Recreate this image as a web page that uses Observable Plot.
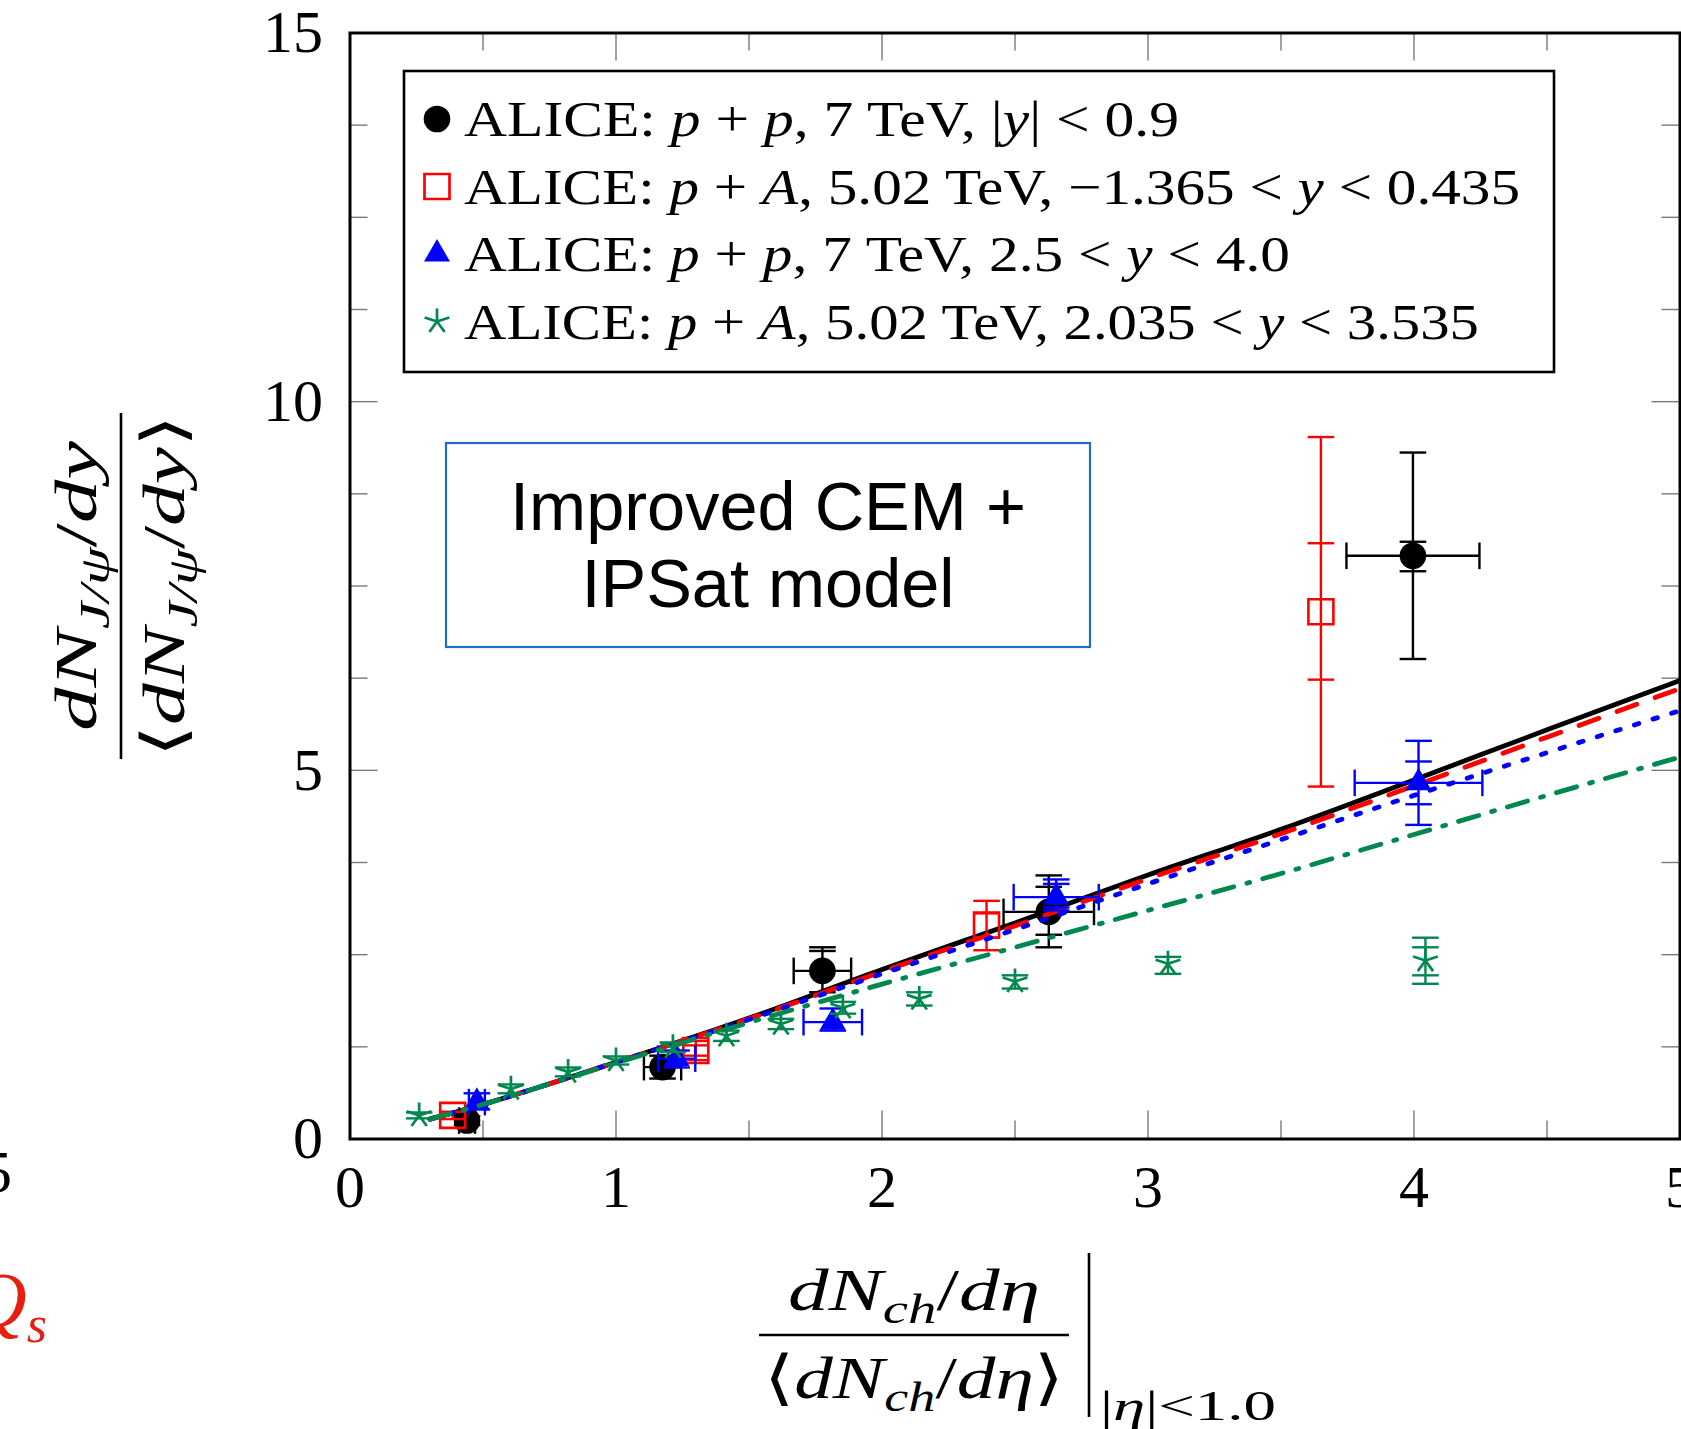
<!DOCTYPE html>
<html>
<head>
<meta charset="utf-8">
<script src="https://cdn.jsdelivr.net/npm/d3@7"></script>
<script src="https://cdn.jsdelivr.net/npm/@observablehq/plot@0.6"></script>
<style>
html,body{margin:0;padding:0;background:#fff;overflow:hidden;}
#chart svg{display:block;}
</style>
</head>
<body>
<div id="chart"></div>
<script>
// ---------------- DATA ----------------
// ALICE p+p 7 TeV |y|<0.9 (black circles)
const ppMidX      = [0.44, 1.175, 1.776, 2.627, 3.996];
const ppMidY      = [0.25, 0.975, 2.28, 3.08, 7.91];
const ppMidXErr   = [0.03, 0.07, 0.108, 0.17, 0.25];
const ppMidYHi    = [0.31, 1.13, 2.60, 3.575, 9.31];
const ppMidYLo    = [0.19, 0.82, 1.99, 2.60, 6.51];
const ppMidYHiSt  = [null, null, 2.55, 3.42, 8.10];
const ppMidYLoSt  = [null, null, null, 2.77, 7.70];

// ALICE p+A 5.02 TeV -1.365<y<0.435 (red open squares)
const pAbX        = [0.386, 1.30, 2.393, 3.65];
const pAbY        = [0.32, 1.20, 2.90, 7.15];
const pAbYHi      = [0.37, 1.33, 3.23, 9.52];
const pAbYLo      = [0.27, 1.07, 2.56, 4.78];
const pAbYHiSt    = [null, 1.27, 3.06, 8.08];
const pAbYLoSt    = [null, 1.13, 2.73, 6.23];

// ALICE p+p 7 TeV 2.5<y<4.0 (blue triangles)
const ppFwdX      = [0.477, 1.228, 1.815, 2.655, 4.017];
const ppFwdY      = [0.50, 1.09, 1.585, 3.28, 4.83];
const ppFwdXErr   = [0.03, 0.07, 0.11, 0.16, 0.24];
const ppFwdYHi    = [0.62, 1.20, 1.77, 3.52, 5.40];
const ppFwdYLo    = [0.40, 0.97, 1.47, 3.10, 4.26];
const ppFwdYHiSt  = [null, null, null, 3.46, 5.12];
const ppFwdYLoSt  = [null, null, null, 3.14, 4.54];

// ALICE p+A 5.02 TeV 2.035<y<3.535 (green stars)
const pAfX        = [0.26, 0.605, 0.82, 1.0, 1.214, 1.415, 1.62, 1.853, 2.14, 2.50, 3.075, 4.043];
const pAfY        = [0.32, 0.68, 0.91, 1.065, 1.245, 1.40, 1.56, 1.78, 1.90, 2.137, 2.377, 2.42];
const pAfYHi      = [0.36, 0.74, 0.97, 1.12, 1.31, 1.47, 1.63, 1.86, 1.99, 2.22, 2.47, 2.73];
const pAfYLo      = [0.28, 0.62, 0.85, 1.01, 1.18, 1.33, 1.49, 1.70, 1.81, 2.04, 2.24, 2.105];
const pAfYHiSt    = [null, null, null, null, null, null, null, null, null, null, null, 2.60];
const pAfYLoSt    = [null, null, null, null, null, null, null, null, null, null, null, 2.22];

// Improved CEM + IPSat model curves
const modelX      = [0.3, 0.5, 1.0, 1.5, 2.0, 2.5, 3.0, 3.5, 4.0, 4.5, 5.0];
const modelPpMid  = [0.27, 0.47, 1.04, 1.64, 2.30, 2.93, 3.58, 4.20, 4.87, 5.55, 6.22];
const modelPAb    = [0.27, 0.47, 1.04, 1.63, 2.27, 2.89, 3.53, 4.14, 4.79, 5.45, 6.11];
const modelPpFwd  = [0.27, 0.47, 1.04, 1.62, 2.24, 2.84, 3.46, 4.06, 4.66, 5.24, 5.81];
const modelPAf    = [0.27, 0.47, 1.03, 1.58, 2.10, 2.60, 3.10, 3.60, 4.13, 4.66, 5.18];

// Axes ticks
const xTicks      = [0, 1, 2, 3, 4, 5];
const xMinorTicks = [0.5, 1.5, 2.5, 3.5, 4.5];
const yTicks      = [0, 5, 10, 15];
const yMinorTicks = [1.25, 2.5, 3.75, 6.25, 7.5, 8.75, 11.25, 12.5, 13.75];

// Legend labels: [text, style] ; style "" roman, "i" italic
const legendPpMid = [["ALICE: ",""],["p","i"],[" + ",""],["p","i"],[", 7 TeV, |",""],["y","i"],["| < 0.9",""]];
const legendPAb   = [["ALICE: ",""],["p","i"],[" + ",""],["A","i"],[", 5.02 TeV, \u22121.365 < ",""],["y","i"],[" < 0.435",""]];
const legendPpFwd = [["ALICE: ",""],["p","i"],[" + ",""],["p","i"],[", 7 TeV, 2.5 < ",""],["y","i"],[" < 4.0",""]];
const legendPAf   = [["ALICE: ",""],["p","i"],[" + ",""],["A","i"],[", 5.02 TeV, 2.035 < ",""],["y","i"],[" < 3.535",""]];
const boxText     = ["Improved CEM +", "IPSat model"];

// ---------------- STYLE ----------------
const SERIF = "'Liberation Serif', 'Times New Roman', Times, 'DejaVu Serif', serif";
const SANS = "'Liberation Sans', Arial, sans-serif";
const GREEN = "#00884f";
const W = 1681, H = 1429;
const mL = 349.5, mR = 1.5, mT = 32.5, mB = H - 1138.5;
const plotW = W - mL - mR, plotH = H - mT - mB;

// custom symbols (size = PI r^2)
const rad = s => Math.sqrt(s / Math.PI);
const hcap = {draw(c, s){const r = rad(s); c.moveTo(-r,0); c.lineTo(r,0);}};
const vcap = {draw(c, s){const r = rad(s); c.moveTo(0,-r); c.lineTo(0,r);}};
const sq   = {draw(c, s){const r = rad(s); c.moveTo(-r,-r); c.lineTo(r,-r); c.lineTo(r,r); c.lineTo(-r,r); c.closePath();}};
const tri  = {draw(c, s){const r = rad(s); const u = r*Math.sqrt(3)/2; c.moveTo(0,-r); c.lineTo(u,r/2); c.lineTo(-u,r/2); c.closePath();}};
const star5= {draw(c, s){const r = rad(s); for(let i=0;i<5;i++){const a=-Math.PI/2+i*2*Math.PI/5; c.moveTo(0,0); c.lineTo(r*Math.cos(a), r*Math.sin(a));}}};

function series(X, Y, XE, Hi, Lo, HiS, LoS){
  return X.map((x,i)=>({x, y:Y[i], xe: XE ? XE[i] : null, hi:Hi[i], lo:Lo[i], hs:HiS[i], ls:LoS[i]}));
}
const dPpMid = series(ppMidX, ppMidY, ppMidXErr, ppMidYHi, ppMidYLo, ppMidYHiSt, ppMidYLoSt);
const dPAb   = series(pAbX, pAbY, null, pAbYHi, pAbYLo, pAbYHiSt, pAbYLoSt);
const dPpFwd = series(ppFwdX, ppFwdY, ppFwdXErr, ppFwdYHi, ppFwdYLo, ppFwdYHiSt, ppFwdYLoSt);
const dPAf   = series(pAfX, pAfY, null, pAfYHi, pAfYLo, pAfYHiSt, pAfYLoSt);
const model = (Y) => modelX.map((x,i)=>({x, y:Y[i]}));

const CAP = 13.3, EW = 2.4;
function errMarks(data, color){
  const o = {stroke: color, strokeWidth: EW, fill: "none", r: CAP};
  const m = [
    Plot.ruleX(data, {x:"x", y1:"lo", y2:"hi", stroke:color, strokeWidth:EW}),
    Plot.dot(data, {...o, x:"x", y:"hi", symbol:hcap}),
    Plot.dot(data, {...o, x:"x", y:"lo", symbol:hcap}),
    Plot.dot(data.filter(d=>d.hs!=null), {...o, x:"x", y:"hs", symbol:hcap}),
    Plot.dot(data.filter(d=>d.ls!=null), {...o, x:"x", y:"ls", symbol:hcap})
  ];
  const dx = data.filter(d=>d.xe!=null);
  if (dx.length){
    m.push(
      Plot.ruleY(dx, {y:"y", x1:d=>d.x-d.xe, x2:d=>d.x+d.xe, stroke:color, strokeWidth:EW}),
      Plot.dot(dx, {...o, x:d=>d.x-d.xe, y:"y", symbol:vcap}),
      Plot.dot(dx, {...o, x:d=>d.x+d.xe, y:"y", symbol:vcap})
    );
  }
  return m;
}

const LW = 4.8;
const TICKC = "#7a7a7a", TICKW = 1.4, MAJ = 28, MIN = 18;

const plot = Plot.plot({
  width: W, height: H,
  marginLeft: mL, marginRight: mR, marginTop: mT, marginBottom: mB,
  x: {domain: [0, 5]},
  y: {domain: [0, 15]},
  style: {fontFamily: SERIF, background: "#fff", overflow: "hidden", color: "black"},
  marks: [
    // ticks inside, all four sides
    Plot.tickX(xTicks, {x: d=>d, insetTop: plotH - MAJ, stroke: TICKC, strokeWidth: TICKW}),
    Plot.tickX(xMinorTicks, {x: d=>d, insetTop: plotH - MIN, stroke: TICKC, strokeWidth: TICKW}),
    Plot.tickX(xTicks, {x: d=>d, insetBottom: plotH - MAJ, stroke: TICKC, strokeWidth: TICKW}),
    Plot.tickX(xMinorTicks, {x: d=>d, insetBottom: plotH - MIN, stroke: TICKC, strokeWidth: TICKW}),
    Plot.tickY(yTicks, {y: d=>d, insetRight: plotW - MAJ, stroke: TICKC, strokeWidth: TICKW}),
    Plot.tickY(yMinorTicks, {y: d=>d, insetRight: plotW - MIN, stroke: TICKC, strokeWidth: TICKW}),
    Plot.tickY(yTicks, {y: d=>d, insetLeft: plotW - MAJ, stroke: TICKC, strokeWidth: TICKW}),
    Plot.tickY(yMinorTicks, {y: d=>d, insetLeft: plotW - MIN, stroke: TICKC, strokeWidth: TICKW}),
    Plot.axisX(xTicks, {tickSize: 0, tickPadding: 25, fontSize: 60, tickFormat: d=>String(d), label: null}),
    Plot.axisY(yTicks, {tickSize: 0, tickPadding: 27, fontSize: 60, tickFormat: d=>String(d), label: null}),

    // black series + model
    ...errMarks(dPpMid, "black"),
    Plot.dot(dPpMid, {x:"x", y:"y", r:13.3, fill:"black", stroke:"none"}),
    Plot.line(model(modelPpMid), {x:"x", y:"y", stroke:"black", strokeWidth:LW, curve:"monotone-x"}),

    // red series + model
    ...errMarks(dPAb, "#ff0000"),
    Plot.dot(dPAb, {x:"x", y:"y", r:12.5, symbol:sq, fill:"none", stroke:"#ff0000", strokeWidth:2.6}),
    Plot.line(model(modelPAb), {x:"x", y:"y", stroke:"#ff0000", strokeWidth:LW, strokeDasharray:"21,19.5", curve:"monotone-x"}),

    // blue series + model
    ...errMarks(dPpFwd, "#0000ff"),
    Plot.dot(dPpFwd, {x:"x", y:"y", r:15, symbol:tri, fill:"#0000ff", stroke:"none"}),
    Plot.line(model(modelPpFwd), {x:"x", y:"y", stroke:"#0000ff", strokeWidth:LW, strokeDasharray:"4.7,14.8", curve:"monotone-x"}),

    // green series + model
    ...errMarks(dPAf, GREEN),
    Plot.dot(dPAf, {x:"x", y:"y", r:13, symbol:star5, fill:"none", stroke:GREEN, strokeWidth:2.7}),
    Plot.line(model(modelPAf), {x:"x", y:"y", stroke:GREEN, strokeWidth:LW, strokeDasharray:"21,13.5,3,13.5", curve:"monotone-x"}),

    Plot.frame({stroke: "black", strokeWidth: 3})
  ]
});
document.getElementById("chart").appendChild(plot);

// ---------------- ANNOTATIONS ----------------
const svg = d3.select(plot);

function mathText(parent, {x, y, parts, size, anchor = "start", length = null, fill = "black", family = SERIF}){
  const t = parent.append("text").attr("x", x).attr("y", y)
    .attr("font-size", size).attr("text-anchor", anchor)
    .attr("font-family", family).attr("fill", fill);
  let off = 0;
  for (const [txt, st] of parts){
    const s = t.append("tspan").text(txt);
    if (st.includes("i")) s.attr("font-style", "italic");
    const sub = st.includes("s");
    if (sub) s.attr("font-size", size * 0.7);
    const target = sub ? size * 0.22 : 0;
    if (target !== off){ s.attr("dy", target - off); off = target; }
  }
  if (length) t.attr("textLength", length).attr("lengthAdjust", "spacingAndGlyphs");
  return t;
}

// legend
const lg = svg.append("g");
lg.append("rect").attr("x", 404).attr("y", 71).attr("width", 1150).attr("height", 301)
  .attr("fill", "white").attr("stroke", "black").attr("stroke-width", 2.6);
const legendRows = [
  {parts: legendPpMid, sym: d3.symbolCircle, r: 13.3, fill: "black", stroke: "none", len: 715},
  {parts: legendPAb, sym: sq, r: 12.5, fill: "none", stroke: "#ff0000", len: 1056},
  {parts: legendPpFwd, sym: tri, r: 15, fill: "#0000ff", stroke: "none", len: 826},
  {parts: legendPAf, sym: star5, r: 13, fill: "none", stroke: GREEN, len: 1015}
];
const rowY = [119, 186.5, 254, 321.5];
legendRows.forEach((row, i) => {
  lg.append("path").attr("transform", `translate(437,${rowY[i]})`)
    .attr("d", d3.symbol(row.sym, Math.PI * row.r * row.r)())
    .attr("fill", row.fill).attr("stroke", row.stroke).attr("stroke-width", 2.7);
  mathText(lg, {x: 464, y: rowY[i] + 17, parts: row.parts, size: 50, length: row.len});
});

// model text box
const tb = svg.append("g");
tb.append("rect").attr("x", 446).attr("y", 443).attr("width", 644).attr("height", 204)
  .attr("fill", "white").attr("stroke", "#1f6ec4").attr("stroke-width", 2.2);
tb.append("text").attr("x", 768).attr("y", 530).attr("text-anchor", "middle")
  .attr("font-family", SANS).attr("font-size", 68.5).text(boxText[0]);
tb.append("text").attr("x", 768).attr("y", 607).attr("text-anchor", "middle")
  .attr("font-family", SANS).attr("font-size", 68.5).text(boxText[1]);

// y-axis label (rotated fraction)
const yl = svg.append("g").attr("transform", "translate(121,586) rotate(-90)");
yl.append("line").attr("x1", -173).attr("x2", 173).attr("y1", 0).attr("y2", 0)
  .attr("stroke", "black").attr("stroke-width", 2.6);
mathText(yl, {x: 0, y: -25, anchor: "middle", size: 60, length: 290,
  parts: [["dN","i"],["J/\u03C8","si"],["/","" ],["dy","i"]]});
mathText(yl, {x: 0, y: 63, anchor: "middle", size: 60, length: 343,
  parts: [["\u27E8",""],["dN","i"],["J/\u03C8","si"],["/",""],["dy","i"],["\u27E9",""]]});

// x-axis label
const xl = svg.append("g");
xl.append("line").attr("x1", 759).attr("x2", 1069).attr("y1", 1335).attr("y2", 1335)
  .attr("stroke", "black").attr("stroke-width", 2.6);
mathText(xl, {x: 914, y: 1310, anchor: "middle", size: 60, length: 252,
  parts: [["dN","i"],["ch","si"],["/",""],["d\u03B7","i"]]});
mathText(xl, {x: 914, y: 1398, anchor: "middle", size: 60, length: 300,
  parts: [["\u27E8",""],["dN","i"],["ch","si"],["/",""],["d\u03B7","i"],["\u27E9",""]]});
xl.append("line").attr("x1", 1089).attr("x2", 1089).attr("y1", 1253).attr("y2", 1417)
  .attr("stroke", "black").attr("stroke-width", 2.6);
mathText(xl, {x: 1100, y: 1420, size: 42, length: 176,
  parts: [["|",""],["\u03B7","i"],["|<1.0",""]]});

// fragments of the neighbouring panel at the left edge
svg.append("text").attr("x", 12).attr("y", 1192).attr("text-anchor", "end")
  .attr("font-family", SERIF).attr("font-size", 60).text("5");
const qs = svg.append("text").attr("x", 47).attr("y", 1326).attr("text-anchor", "end")
  .attr("font-family", SERIF).attr("font-style", "italic").attr("fill", "#e81f10");
qs.append("tspan").attr("font-size", 78).text("Q");
qs.append("tspan").attr("font-size", 52).attr("dy", 16).text("s");
</script>
</body>
</html>
